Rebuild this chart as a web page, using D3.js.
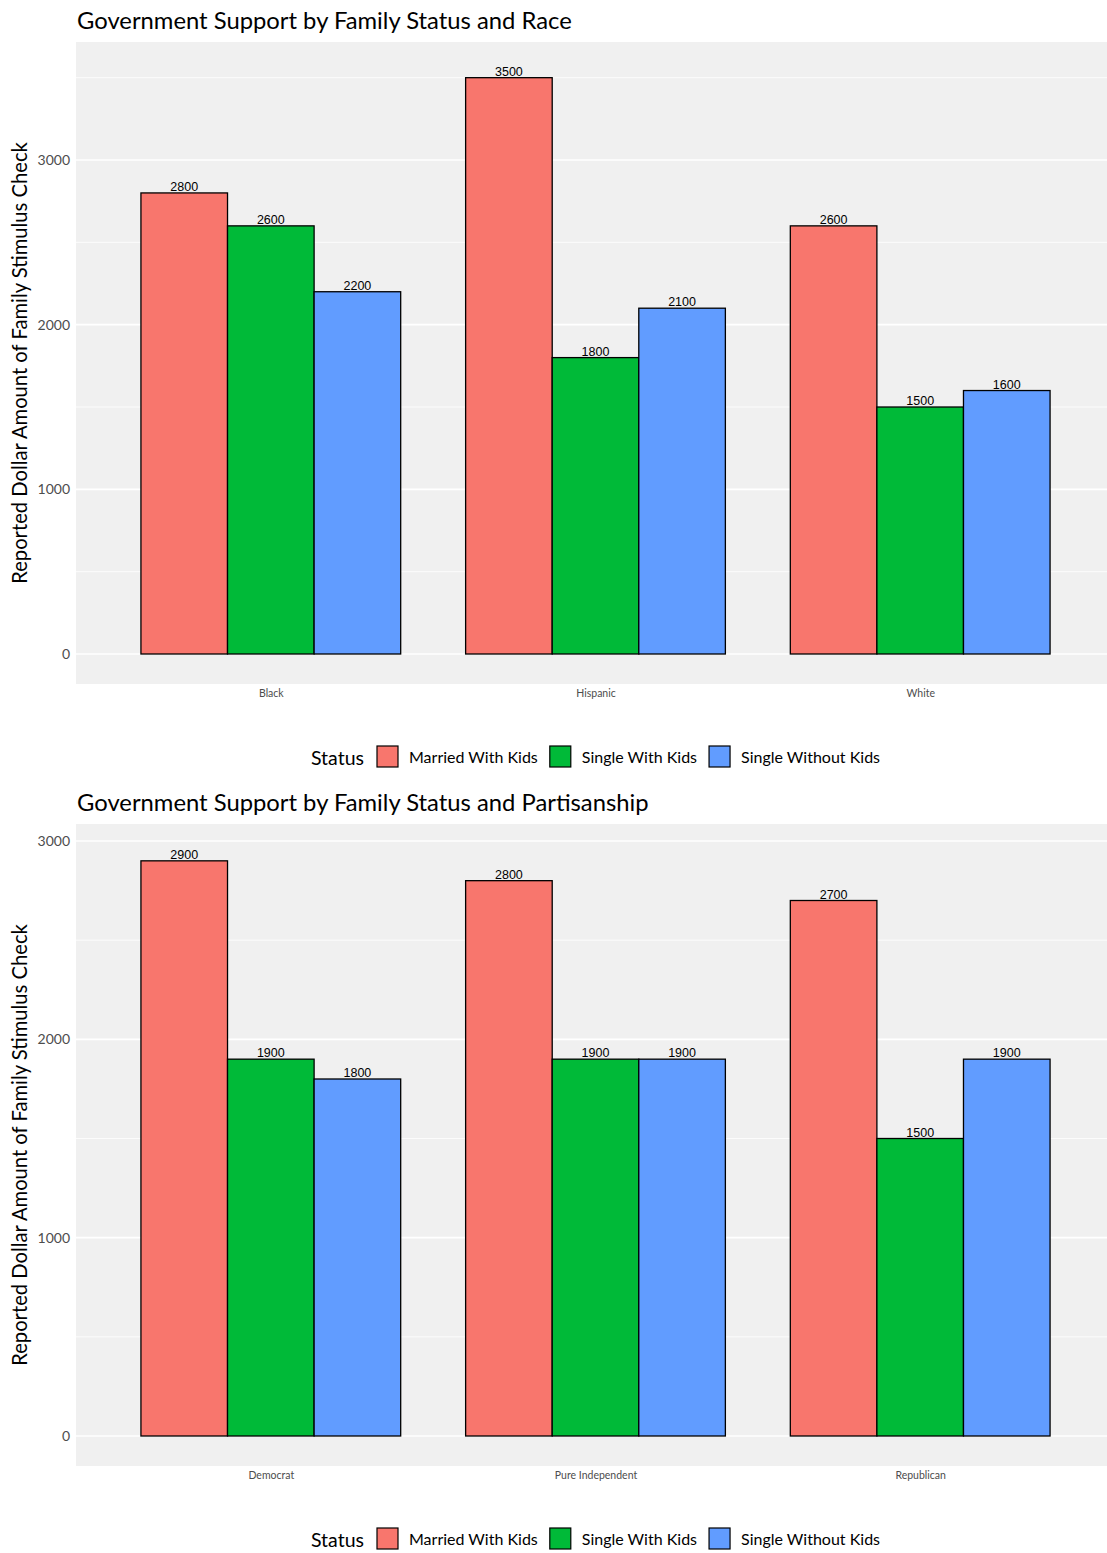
<!DOCTYPE html>
<html>
<head>
<meta charset="utf-8">
<script src="https://cdn.jsdelivr.net/npm/d3@7"></script>
<style>
  html, body { margin: 0; padding: 0; background: #fff; }
  svg { display: block; }
</style>
</head>
<body>
<svg id="chart" width="1107" height="1553"></svg>
<script>
// ---------- DATA ----------
const statuses = ["Married With Kids", "Single With Kids", "Single Without Kids"];
const statusColors = ["#F8766D", "#00BA38", "#619CFF"];

const raceCategories = ["Black", "Hispanic", "White"];
const raceMarried = [2800, 3500, 2600];
const raceSingleKids = [2600, 1800, 1500];
const raceSingleNoKids = [2200, 2100, 1600];
const raceTicks = [0, 1000, 2000, 3000];

const partyCategories = ["Democrat", "Pure Independent", "Republican"];
const partyMarried = [2900, 2800, 2700];
const partySingleKids = [1900, 1900, 1500];
const partySingleNoKids = [1800, 1900, 1900];
const partyTicks = [0, 1000, 2000, 3000];

const yTitle = "Reported Dollar Amount of Family Stimulus Check";

// ---------- DRAW ----------
const svg = d3.select("#chart");
const titleFont = "'Lato', 'Open Sans', sans-serif";
const tickFont = "'Lato', sans-serif";
const labelFont = "'Liberation Sans', Arial, sans-serif";

function drawPanel(cfg) {
  const g = svg.append("g");
  const { categories, series, ticks, title, top, panelTop, panelBottom, zeroY, refY, refVal, legendY } = cfg;
  const panelLeft = 76, panelRight = 1107, fullRight = 1115;

  // title
  g.append("text").attr("x", 77).attr("y", top)
    .attr("font-family", titleFont).attr("font-size", 23.8).attr("fill", "#000")
    .text(title);

  // panel background
  g.append("rect").attr("x", panelLeft).attr("y", panelTop)
    .attr("width", panelRight - panelLeft).attr("height", panelBottom - panelTop)
    .attr("fill", "#f0f0f0");

  const y = d3.scaleLinear().domain([0, refVal]).range([zeroY, refY]);
  const n = categories.length;
  const step = (fullRight - panelLeft) / (n - 1 + 1.2);
  const xc = d3.scalePoint().domain(categories).range([panelLeft + 0.6 * step, fullRight - 0.6 * step]);
  const inner = d3.scaleBand().domain(statuses).range([-0.4 * step, 0.4 * step]);

  // gridlines (minor then major)
  const yMax = y.invert(panelTop), yMin = y.invert(panelBottom);
  const minor = d3.range(Math.ceil(yMin / 500) * 500, yMax, 500).filter(v => v % 1000 !== 0);
  g.selectAll(".minor").data(minor).enter().append("line")
    .attr("x1", panelLeft).attr("x2", panelRight)
    .attr("y1", d => y(d)).attr("y2", d => y(d))
    .attr("stroke", "#fff").attr("stroke-width", 0.8);
  g.selectAll(".major").data(ticks).enter().append("line")
    .attr("x1", panelLeft).attr("x2", panelRight)
    .attr("y1", d => y(d)).attr("y2", d => y(d))
    .attr("stroke", "#fff").attr("stroke-width", 1.6);

  // y axis
  const yAxis = d3.axisLeft(y).tickValues(ticks).tickFormat(d3.format("d")).tickSize(0).tickPadding(6);
  const ya = g.append("g").attr("transform", `translate(${panelLeft},0)`).call(yAxis);
  ya.select(".domain").remove();
  ya.selectAll("text").attr("font-family", tickFont).attr("font-size", 14).attr("fill", "#4d4d4d");

  // x axis
  const xAxis = d3.axisBottom(xc).tickSize(0).tickPadding(6);
  const xa = g.append("g").attr("transform", `translate(0,${panelBottom})`).call(xAxis);
  xa.select(".domain").remove();
  xa.selectAll("text").attr("font-family", tickFont).attr("font-size", 10.5).attr("fill", "#4d4d4d");

  // bars
  const rows = [];
  categories.forEach((c, i) => {
    statuses.forEach((s, j) => rows.push({ c, s, j, v: series[j][i] }));
  });
  g.selectAll(".bar").data(rows).enter().append("rect")
    .attr("x", d => xc(d.c) + inner(d.s))
    .attr("width", inner.bandwidth())
    .attr("y", d => y(d.v))
    .attr("height", d => y(0) - y(d.v))
    .attr("fill", d => statusColors[d.j])
    .attr("stroke", "#000").attr("stroke-width", 1.3);
  g.selectAll(".lbl").data(rows).enter().append("text")
    .attr("x", d => xc(d.c) + inner(d.s) + inner.bandwidth() / 2)
    .attr("y", d => y(d.v) - 2)
    .attr("text-anchor", "middle")
    .attr("font-family", labelFont).attr("font-size", 12.5).attr("fill", "#000")
    .text(d => d.v);

  // y title
  g.append("text")
    .attr("transform", `translate(27,${(panelTop + panelBottom) / 2}) rotate(-90)`)
    .attr("text-anchor", "middle")
    .attr("font-family", titleFont).attr("font-size", 20.2).attr("fill", "#000")
    .text(yTitle);

  // legend
  const lg = g.append("g");
  const t = lg.append("text").attr("x", 0).attr("y", 0)
    .attr("font-family", titleFont).attr("font-size", 19.5).attr("fill", "#000").text("Status");
  let cx = t.node().getComputedTextLength() + 13;
  statuses.forEach((s, j) => {
    lg.append("rect").attr("x", cx).attr("y", -19).attr("width", 21).attr("height", 21)
      .attr("fill", statusColors[j]).attr("stroke", "#000").attr("stroke-width", 1.2);
    cx += 21 + 11;
    const lt = lg.append("text").attr("x", cx).attr("y", -2)
      .attr("font-family", titleFont).attr("font-size", 16).attr("fill", "#000").text(s);
    cx += lt.node().getComputedTextLength() + 12;
  });
  const w = cx - 12;
  lg.attr("transform", `translate(${595.5 - w / 2},${legendY})`);
}

drawPanel({
  categories: raceCategories,
  series: [raceMarried, raceSingleKids, raceSingleNoKids],
  ticks: raceTicks,
  title: "Government Support by Family Status and Race",
  top: 29, panelTop: 42, panelBottom: 684, zeroY: 654, refY: 160, refVal: 3000, legendY: 765
});
drawPanel({
  categories: partyCategories,
  series: [partyMarried, partySingleKids, partySingleNoKids],
  ticks: partyTicks,
  title: "Government Support by Family Status and Partisanship",
  top: 811, panelTop: 824, panelBottom: 1466, zeroY: 1436, refY: 841, refVal: 3000, legendY: 1547
});
</script>
</body>
</html>
